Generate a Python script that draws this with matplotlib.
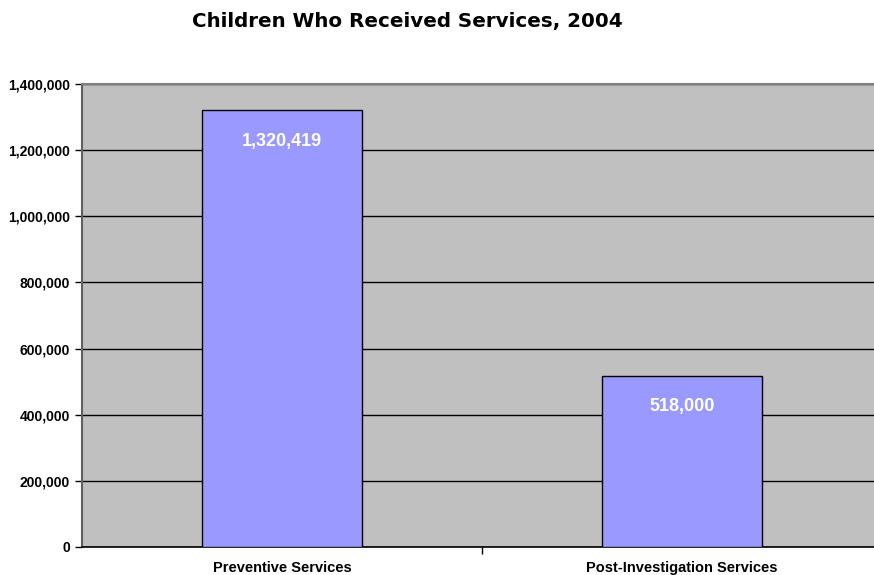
import matplotlib.pyplot as plt
from matplotlib.ticker import FuncFormatter

categories = ['Preventive Services', 'Post-Investigation Services']
children = [1320419, 518000]
bar_labels = ['1,320,419', '518,000']
y_ticks = [0, 200000, 400000, 600000, 800000, 1000000, 1200000, 1400000]

plt.rcParams['font.family'] = ['Liberation Sans', 'DejaVu Sans']

fig = plt.figure(figsize=(8.74, 5.75), dpi=100)
ax = fig.add_axes([0.0938, 0.0487, 0.915, 0.8052])
ax.set_facecolor('#C0C0C0')

x = list(range(len(categories)))
bars = ax.bar(x, children, width=0.4, color='#9999FF', edgecolor='black',
              linewidth=1, zorder=3)

# value labels sit inside the top of each bar
for b, lab in zip(bars, bar_labels):
    ax.annotate(lab, (b.get_x() + b.get_width() / 2, b.get_height()),
                xytext=(0, -31), textcoords='offset pixels',
                ha='center', va='center', color='white',
                fontsize=13, fontweight='bold', zorder=4)

ax.set_xlim(-0.5, 1.5)
ax.set_ylim(0, 1400000)
ax.set_yticks(y_ticks)
ax.yaxis.set_major_formatter(FuncFormatter(lambda v, p: f'{int(v):,}'))
ax.grid(axis='y', color='black', linewidth=1, zorder=1)
ax.set_axisbelow(True)

# category labels placed under each bar, tick mark between them
ax.set_xticks([0.5])
ax.set_xticklabels([''])
ax.tick_params(axis='x', length=5, width=1, color='black')
for xi, name in zip(x, categories):
    ax.text(xi, -0.031, name, transform=ax.get_xaxis_transform(),
            ha='center', va='top', fontsize=10.5, fontweight='bold')

ax.tick_params(axis='y', length=5, width=1, color='black', labelsize=10)
for lab in ax.get_yticklabels():
    lab.set_fontweight('bold')

for s in ['top', 'right']:
    ax.spines[s].set_color('#808080')
    ax.spines[s].set_linewidth(1.5)
ax.spines['left'].set_color('#606060')
ax.spines['left'].set_linewidth(1.5)
ax.spines['bottom'].set_color('black')
ax.spines['bottom'].set_linewidth(1.2)

fig.text(0.466, 0.963, 'Children Who Received Services, 2004',
         ha='center', va='center', fontsize=14.3, fontweight='heavy',
         family=['DejaVu Sans'])

fig.savefig('out.png', dpi=100)
